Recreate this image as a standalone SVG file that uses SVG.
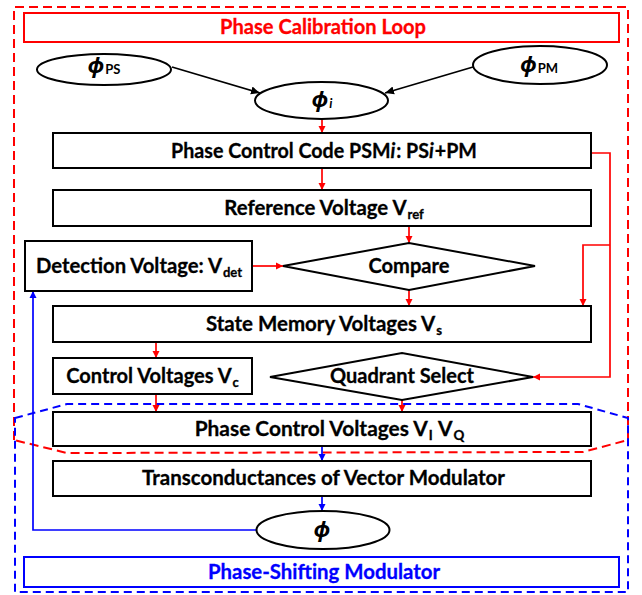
<svg xmlns="http://www.w3.org/2000/svg" width="642" height="595" viewBox="0 0 642 595">
<style>
.box{fill:#fff;stroke:#000;stroke-width:2}
.ell{fill:#fff;stroke:#000;stroke-width:2}
.t{font-family:Lato,"Liberation Sans",sans-serif;font-weight:bold;font-size:21px;fill:#000;stroke:#000;stroke-width:0.3;text-anchor:middle}
.sub{font-size:13.5px}
.phi{font-family:"Noto Sans","DejaVu Sans",sans-serif;font-weight:bold;font-style:italic;font-size:22px;fill:#000;text-anchor:middle}
.phisub{font-family:Lato,"Liberation Sans",sans-serif;font-style:normal;font-size:13px}
.red{stroke:#f00;stroke-width:1.7;fill:none}
.blue{stroke:#00f;stroke-width:1.7;fill:none}
.blk{stroke:#000;stroke-width:1.7;fill:none}
</style>
<defs>
<marker id="ar" markerUnits="userSpaceOnUse" markerWidth="8" markerHeight="8" refX="7" refY="4" orient="auto"><path d="M0,0.5 L7,4 L0,7.5 z" fill="#f00"/></marker>
<marker id="ab" markerUnits="userSpaceOnUse" markerWidth="8" markerHeight="8" refX="7" refY="4" orient="auto"><path d="M0,0.5 L7,4 L0,7.5 z" fill="#00f"/></marker>
<marker id="ak" markerUnits="userSpaceOnUse" markerWidth="10" markerHeight="10" refX="9" refY="5" orient="auto"><path d="M0,1 L9,5 L0,9 z" fill="#000"/></marker>
</defs>
<rect width="642" height="595" fill="#fff"/>

<g id="regions">
<path d="M14,440 L14,7 L628,7 L628,440 L583,452 L67,453 Z" fill="none" stroke="#f00" stroke-width="2" stroke-dasharray="9,5"/>
<path d="M15,418 L67,404 L578,404 L628,418 L628,592 L15,592 Z" fill="none" stroke="#00f" stroke-width="2" stroke-dasharray="8,5"/>
</g>

<g id="title-calibration">
<rect x="24" y="13" width="595" height="29" fill="none" stroke="#f00" stroke-width="2"/>
<text class="t" x="323" y="34" style="fill:#f00;stroke:#f00" textLength="206" lengthAdjust="spacingAndGlyphs">Phase Calibration Loop</text>
</g>

<g id="connectors">
<line class="blk" x1="172" y1="67" x2="260" y2="93" marker-end="url(#ak)"/>
<line class="blk" x1="473" y1="67" x2="385" y2="93" marker-end="url(#ak)"/>
<line class="red" x1="322" y1="119" x2="322" y2="133" marker-end="url(#ar)"/>
<line class="red" x1="322" y1="168" x2="322" y2="190" marker-end="url(#ar)"/>
<line class="red" x1="409" y1="226" x2="409" y2="243" marker-end="url(#ar)"/>
<line class="red" x1="252" y1="266" x2="283" y2="266" marker-end="url(#ar)"/>
<line class="red" x1="409" y1="290" x2="409" y2="306" marker-end="url(#ar)"/>
<line class="red" x1="156" y1="342" x2="156" y2="358" marker-end="url(#ar)"/>
<line class="red" x1="156" y1="394" x2="156" y2="412" marker-end="url(#ar)"/>
<line class="red" x1="402" y1="400" x2="402" y2="412" marker-end="url(#ar)"/>
<polyline class="red" points="591,153 610,153 610,377 533,377" marker-end="url(#ar)"/>
<polyline class="red" points="610,245 583,245 583,306" marker-end="url(#ar)"/>
<line class="blue" x1="322" y1="446" x2="322" y2="461" marker-end="url(#ab)"/>
<line class="blue" x1="322" y1="496" x2="322" y2="511" marker-end="url(#ab)"/>
<polyline class="blue" points="257,530 33,530 33,291" marker-end="url(#ab)"/>
</g>

<g id="phi-ps">
<ellipse class="ell" cx="104" cy="69.5" rx="67" ry="15.5"/>
<text class="phi" x="104" y="73">ϕ<tspan class="phisub" dx="1" dy="1">PS</tspan></text>
</g>
<g id="phi-pm">
<ellipse class="ell" cx="540" cy="65" rx="67" ry="19"/>
<text class="phi" x="539" y="72">ϕ<tspan class="phisub" dx="1" dy="1">PM</tspan></text>
</g>
<g id="phi-i">
<ellipse class="ell" cx="321.5" cy="100.5" rx="66.5" ry="18.5"/>
<text class="phi" x="322" y="107">ϕ<tspan class="phisub" style="font-style:italic" dx="1" dy="1">i</tspan></text>
</g>

<g id="phase-control-code">
<rect class="box" x="53" y="133" width="538" height="35"/>
<text class="t" transform="translate(324,158) scale(0.936,1)" x="0" y="0">Phase Control Code PSM<tspan font-style="italic">i</tspan><tspan dx="1">: PS</tspan><tspan font-style="italic">i</tspan><tspan dx="1">+PM</tspan></text>
</g>

<g id="reference-voltage">
<rect class="box" x="53" y="190" width="538" height="36"/>
<text class="t" transform="translate(324,215) scale(0.97,1)" x="0" y="0">Reference Voltage V<tspan class="sub" dx="1" dy="4">ref</tspan></text>
</g>

<g id="detection-voltage">
<rect class="box" x="25" y="241" width="227" height="50"/>
<text class="t" transform="translate(139,273) scale(0.965,1)" x="0" y="0">Detection Voltage: V<tspan class="sub" dx="1" dy="4">det</tspan></text>
</g>

<g id="compare">
<polygon points="283,266 409,243 535,266 409,290" fill="#fff" stroke="#000" stroke-width="2"/>
<text class="t" x="409" y="273" textLength="81" lengthAdjust="spacingAndGlyphs">Compare</text>
</g>

<g id="state-memory">
<rect class="box" x="53" y="306" width="538" height="36"/>
<text class="t" transform="translate(324,331) scale(0.975,1)" x="0" y="0">State Memory Voltages V<tspan class="sub" dx="1" dy="4">s</tspan></text>
</g>

<g id="control-voltages">
<rect class="box" x="53" y="358" width="199" height="36"/>
<text class="t" transform="translate(152.5,383) scale(0.955,1)" x="0" y="0">Control Voltages V<tspan class="sub" dx="1" dy="4">c</tspan></text>
</g>

<g id="quadrant-select">
<polygon points="270,377 402,353 533,377 402,400" fill="#fff" stroke="#000" stroke-width="2"/>
<text class="t" x="402" y="383" textLength="144" lengthAdjust="spacingAndGlyphs">Quadrant Select</text>
</g>

<g id="phase-control-voltages">
<rect class="box" x="53" y="412" width="538" height="34"/>
<text class="t" transform="translate(329.5,436) scale(0.995,1)" x="0" y="0">Phase Control Voltages V<tspan class="sub" dx="1" dy="4">I</tspan><tspan dx="1" dy="-4"> V</tspan><tspan class="sub" dx="1" dy="4">Q</tspan></text>
</g>

<g id="transconductances">
<rect class="box" x="53" y="461" width="538" height="35"/>
<text class="t" x="323.5" y="485" textLength="363" lengthAdjust="spacingAndGlyphs">Transconductances of Vector Modulator</text>
</g>

<g id="phi-out">
<ellipse class="ell" cx="323" cy="530" rx="66.5" ry="19"/>
<text class="phi" x="322" y="537">ϕ</text>
</g>

<g id="title-modulator">
<rect x="24" y="557" width="595" height="30" fill="none" stroke="#00f" stroke-width="2"/>
<text class="t" x="324" y="579" style="fill:#00f;stroke:#00f" textLength="232" lengthAdjust="spacingAndGlyphs">Phase-Shifting Modulator</text>
</g>
</svg>
